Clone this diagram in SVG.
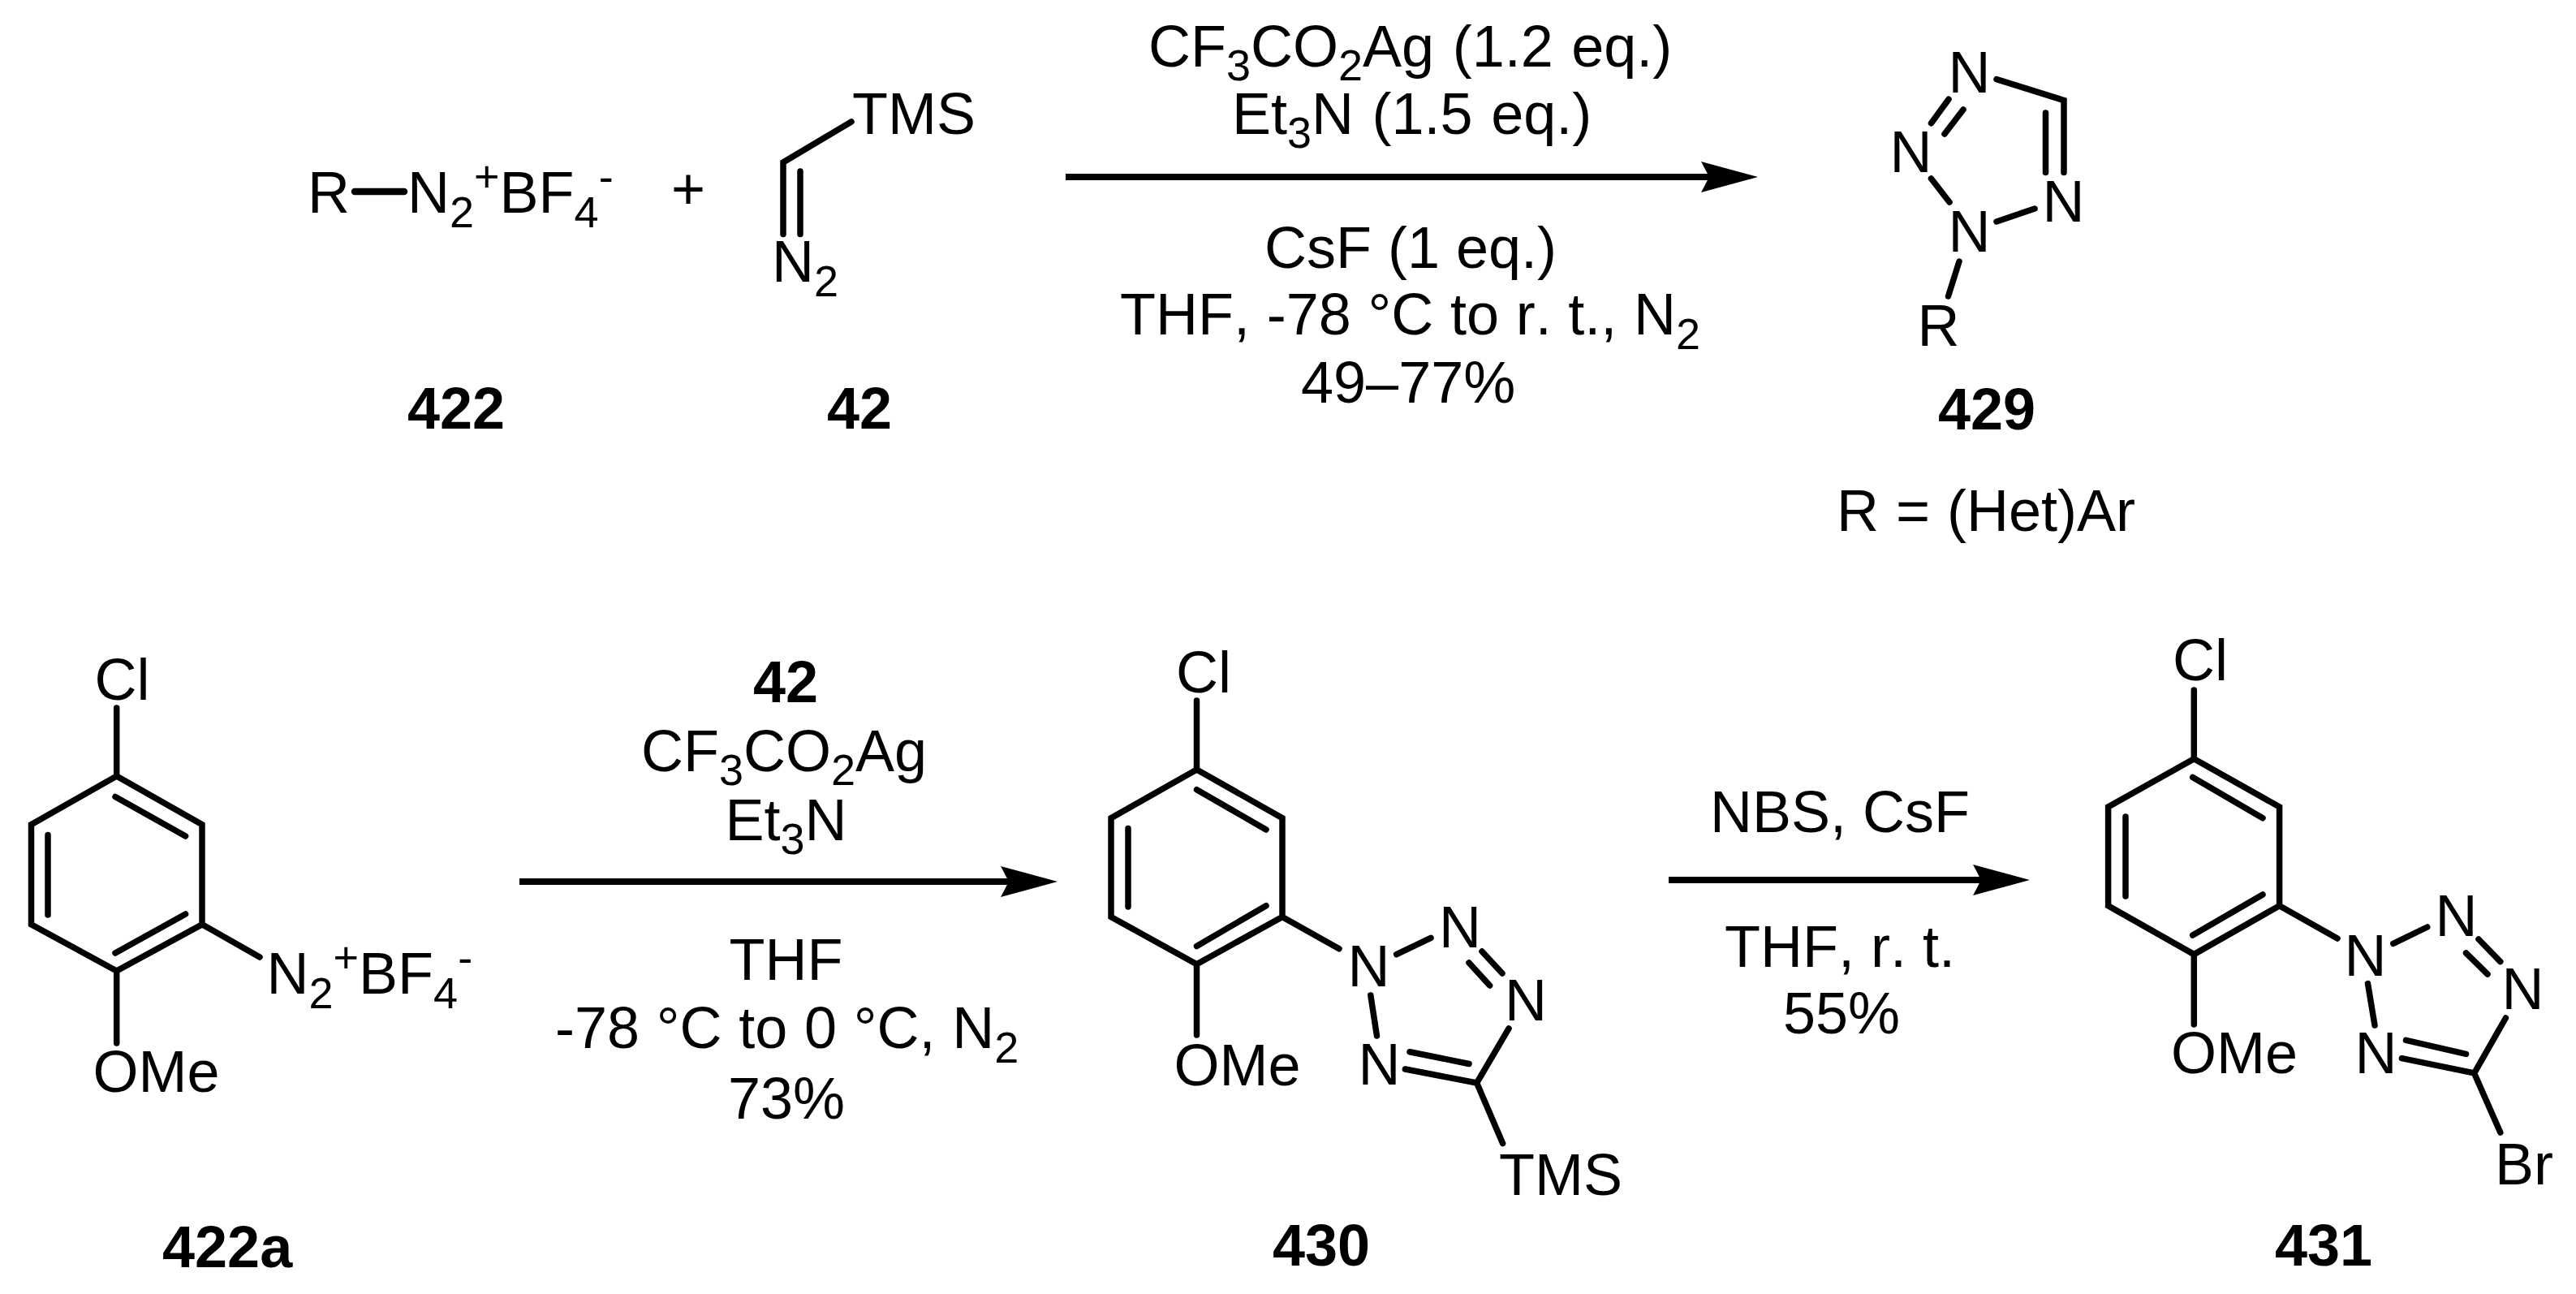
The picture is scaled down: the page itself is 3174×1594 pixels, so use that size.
<svg xmlns="http://www.w3.org/2000/svg" width="3174" height="1594" viewBox="0 0 3174 1594">
<style>
text{font-family:"Liberation Sans",Arial,sans-serif;font-size:72px;fill:#000;font-kerning:none}
.b{font-weight:700}
.s{font-size:54px}
.w{word-spacing:2.5px}
.bond{fill:none;stroke:#000;stroke-width:7.5;stroke-linecap:round;stroke-linejoin:miter}
.arrow{stroke:#000;stroke-width:8;fill:none;marker-end:url(#head)}
</style>
<defs>
<marker id="head" markerUnits="userSpaceOnUse" markerWidth="72" markerHeight="42" viewBox="0 -21 72 42" refX="12" refY="0" orient="auto"><path d="M0,-19L70,0L0,19L10,0Z" fill="#000"/></marker>
</defs>
<rect width="3174" height="1594" fill="#fff"/>

<g id="connectors">
<line class="arrow" x1="1313" y1="218" x2="2108" y2="218"/>
<line class="arrow" x1="640" y1="1086" x2="1245" y2="1086"/>
<line class="arrow" x1="2056" y1="1084" x2="2443" y2="1084"/>
</g>

<g id="n422">
<path class="bond" style="stroke-width:8.5" d="M437,236H498"/>
<text x="379" y="262">R</text>
<text x="502" y="262">N<tspan class="s" dy="18">2</tspan><tspan class="s" dy="-44">+</tspan><tspan dy="26">BF</tspan><tspan class="s" dy="18">4</tspan><tspan class="s" dy="-44">-</tspan></text>
<text class="b" x="502" y="528">422</text>
</g>
<g id="plus"><text x="827" y="257">+</text></g>
<g id="n42">
<path class="bond" d="M1049,150L965,200V288.6M986,211V288.6"/>
<text x="1050" y="165">TMS</text>
<text x="951" y="347">N<tspan class="s" dy="18">2</tspan></text>
<text class="b" x="1019" y="528">42</text>
</g>

<g id="cond1">
<text class="w" x="1415" y="82">CF<tspan class="s" dy="17">3</tspan><tspan dy="-17">CO</tspan><tspan class="s" dy="17">2</tspan><tspan dy="-17">Ag (1.2 eq.)</tspan></text>
<text class="w" x="1518" y="165">Et<tspan class="s" dy="17">3</tspan><tspan dy="-17">N (1.5 eq.)</tspan></text>
<text x="1558" y="330">CsF (1 eq.)</text>
<text x="1380" y="412" style="word-spacing:.7px">THF, -78 °C to r. t., N<tspan class="s" dy="18">2</tspan></text>
<text x="1603" y="496">49–77%</text>
</g>

<g id="n429">
<path class="bond" d="M2460,97.6L2543,123.6V212.5M2520.5,139V212.5M2379.5,151.8L2401,122.3M2396,165L2419,135M2379.5,220L2402,249M2460,273L2507,257M2414,322L2400.5,365"/>
<text x="2400.5" y="113.6">N</text>
<text x="2328.5" y="211.6">N</text>
<text x="2516.5" y="273">N</text>
<text x="2400.5" y="310">N</text>
<text x="2362.5" y="426">R</text>
<text class="b" x="2388" y="529">429</text>
<text x="2263" y="653.5" style="word-spacing:1px">R = (Het)Ar</text>
</g>

<g id="n422a">
<path class="bond" d="M143.7,956L249,1015.7V1138.7L143.7,1196L38.5,1138.7V1015.7ZM142,981.5L228.6,1030M59,1028.5V1127M142,1174L228.6,1126M143.7,872V956M143.7,1196V1285M249,1138.7L320,1179"/>
<text x="116.5" y="862">Cl</text>
<text x="114.5" y="1345">OMe</text>
<text x="328.5" y="1224">N<tspan class="s" dy="18">2</tspan><tspan class="s" dy="-44">+</tspan><tspan dy="26">BF</tspan><tspan class="s" dy="18">4</tspan><tspan class="s" dy="-44">-</tspan></text>
<text class="b" x="200" y="1560.5">422a</text>
</g>

<g id="cond2">
<text class="b" x="928" y="865">42</text>
<text x="790" y="949.5">CF<tspan class="s" dy="17">3</tspan><tspan dy="-17">CO</tspan><tspan class="s" dy="17">2</tspan><tspan dy="-17">Ag</tspan></text>
<text x="893.5" y="1035">Et<tspan class="s" dy="17">3</tspan><tspan dy="-17">N</tspan></text>
<text x="898.5" y="1206.5">THF</text>
<text x="684" y="1291" style="word-spacing:.7px">-78 °C to 0 °C, N<tspan class="s" dy="18">2</tspan></text>
<text x="897" y="1378">73%</text>
</g>

<g id="n430">
<path class="bond" d="M1474.5,948L1580,1007.7V1129.5L1474.5,1187.7L1369,1129.5V1007.7ZM1474.5,972.8L1560,1022M1390,1020.5V1117M1474.5,1165.5L1560,1115.7M1474.5,863V948M1474.5,1187.7V1275M1580,1129.5L1650,1168.7M1720.7,1175.6L1763,1155.4M1826,1172L1851,1199M1810,1186L1835.6,1214M1859,1267L1819.6,1334L1731.4,1317M1737,1295.7L1810,1310.5M1688.8,1226L1696.5,1276M1819.6,1334L1851.6,1408.5"/>
<text x="1449" y="852.6">Cl</text>
<text x="1446.5" y="1337">OMe</text>
<text x="1660.5" y="1215">N</text>
<text x="1773" y="1166.6">N</text>
<text x="1854" y="1256.6">N</text>
<text x="1673.5" y="1336">N</text>
<text x="1847" y="1472">TMS</text>
<text class="b" x="1568" y="1559">430</text>
</g>

<g id="cond3">
<text x="2107" y="1025">NBS, CsF</text>
<text x="2125" y="1190.7">THF, r. t.</text>
<text x="2197" y="1273">55%</text>
</g>

<g id="n431">
<path class="bond" d="M2703.3,934.7L2808.6,994V1115.7L2703.3,1175.6L2597.6,1115.7V994ZM2701.7,957.5L2788,1007.7M2619,1006V1104M2701.7,1152L2788,1102M2703.3,850V934.7M2703.3,1175.6V1262M2808.6,1115.7L2880,1156M2948.8,1162.3L2990.7,1142M3054,1157L3080.8,1184.6M3038.5,1174L3065,1200M3087.4,1254L3048.6,1322L2959.4,1303.7M2964.5,1281.4L3038.5,1298.4M2917.5,1211.6L2926,1263M3048.6,1322L3080.8,1395"/>
<text x="2677" y="838">Cl</text>
<text x="2675" y="1322">OMe</text>
<text x="2888.5" y="1202">N</text>
<text x="3000.5" y="1153">N</text>
<text x="3082.5" y="1242.8">N</text>
<text x="2901.5" y="1322">N</text>
<text x="3074" y="1458.8">Br</text>
<text class="b" x="2803" y="1559">431</text>
</g>
</svg>
